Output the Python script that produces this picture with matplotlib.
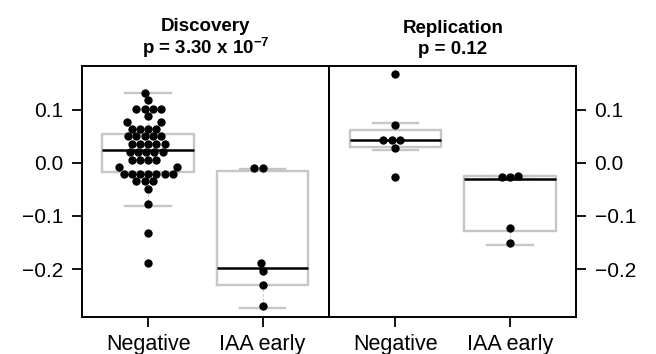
import matplotlib
matplotlib.use('Agg')
import matplotlib.pyplot as plt
import numpy as np

plt.rcParams['font.family'] = ['Liberation Sans', 'DejaVu Sans']
plt.rcParams['mathtext.fontset'] = 'custom'
plt.rcParams['mathtext.rm'] = 'Liberation Sans'
plt.rcParams['mathtext.bf'] = 'Liberation Sans:bold'

groups = ['Negative', 'IAA early']
titles = ['Discovery\np = 3.30 x 10$^{\\mathbf{-7}}$', 'Replication\np = 0.12']

# values
disc_neg = ([0.132] + [0.118] + [0.102] * 4 + [0.088] + [0.077] * 2 + [0.064] * 4
            + [0.050] * 5 + [0.036] * 5 + [0.021] * 5 + [0.006] * 4 + [-0.008] * 2
            + [-0.021] * 7 + [-0.035] * 3 + [-0.049] + [-0.078] + [-0.132] + [-0.188])
disc_iaa = [-0.009, -0.009, -0.188, -0.203, -0.2295, -0.270]
rep_neg = [0.1675, 0.0705, 0.0424, 0.0424, 0.0424, 0.0287, -0.0265]
rep_iaa = [-0.025, -0.026, -0.026, -0.123, -0.150]

# box stats (whislo, q1, med, q3, whishi)
disc_box = [(-0.081, -0.017, 0.0237, 0.054, 0.132),
            (-0.2726, -0.2297, -0.198, -0.015, -0.012)]
rep_box = [(0.0237, 0.030, 0.0424, 0.0625, 0.075),
           (-0.155, -0.128, -0.031, -0.025, -0.025)]

panels = [(titles[0], [disc_neg, disc_iaa], disc_box, 1.0),
          (titles[1], [rep_neg, rep_iaa], rep_box, 1.3)]

W, H = 656, 354
fig = plt.figure(figsize=(W / 100, H / 100), dpi=100)
ax_l = fig.add_axes([81.7 / W, 1 - 317 / H, (329 - 81.7) / W, (317 - 66) / H])
ax_r = fig.add_axes([329 / W, 1 - 317 / H, (576.5 - 329) / W, (317 - 66) / H])

dot_px = 8.2


def swarm(vals, ax):
    # simple beeswarm in pixel space
    ypx = ax.transData.transform(np.column_stack([np.ones(len(vals)), vals]))[:, 1]
    x0 = ax.transData.transform((1, 0))[0]
    x1 = ax.transData.transform((2, 0))[0]
    px_per_unit = x1 - x0
    order = np.argsort(vals)
    placed = []
    offs = np.zeros(len(vals))
    for i in order:
        y = ypx[i]
        cands = [0.0]
        for (px, py) in placed:
            dy = abs(py - y)
            if dy < dot_px:
                dx = np.sqrt(dot_px ** 2 - dy ** 2)
                cands += [px - dx, px + dx]
        best = None
        for c in sorted(cands, key=lambda c: (abs(c), c)):
            ok = all((c - px) ** 2 + (y - py) ** 2 >= dot_px ** 2 - 1e-6 for (px, py) in placed)
            if ok:
                best = c
                break
        placed.append((best, y))
        offs[i] = best / px_per_unit
    return offs


for ax, (title, data, boxes, lsp) in zip([ax_l, ax_r], panels):
    ax.set_xlim(0.42, 2.58)
    ax.set_ylim(-0.29, 0.182)
    stats = []
    for (lo, q1, med, q3, hi) in boxes:
        stats.append(dict(whislo=lo, q1=q1, med=med, q3=q3, whishi=hi, fliers=[]))
    ax.bxp(stats, positions=[1, 2], widths=0.8, showfliers=False,
           boxprops=dict(color='#c6c6c6', linewidth=1.7),
           whiskerprops=dict(color='#c6c6c6', linewidth=0.8, linestyle=(0, (2, 2))),
           capprops=dict(color='#c6c6c6', linewidth=1.7),
           medianprops=dict(color='black', linewidth=1.8),
           capwidths=0.4)
    for k, vals in enumerate(data):
        vals = np.array(vals)
        offs = swarm(vals, ax)
        ax.scatter(k + 1 + offs, vals, s=36, color='black', zorder=5, linewidths=0)
    ax.set_xticks([1, 2])
    ax.set_xticklabels(groups, fontsize=15.5)
    ax.set_yticks([-0.2, -0.1, 0.0, 0.1])
    ax.set_yticklabels(['\u22120.2', '\u22120.1', '0.0', '0.1'], fontsize=15)
    ax.set_title(title, fontsize=13.5, fontweight='bold', pad=9, linespacing=lsp)
    ax.tick_params(length=7, width=1.3, colors='black')
    ax.tick_params(axis='x', pad=5)
    ax.tick_params(axis='y', pad=6)
    for sp in ax.spines.values():
        sp.set_linewidth(1.4)

ax_r.yaxis.tick_right()
ax_r.tick_params(axis='y', left=False, right=True)

fig.savefig('out.png', dpi=100)
